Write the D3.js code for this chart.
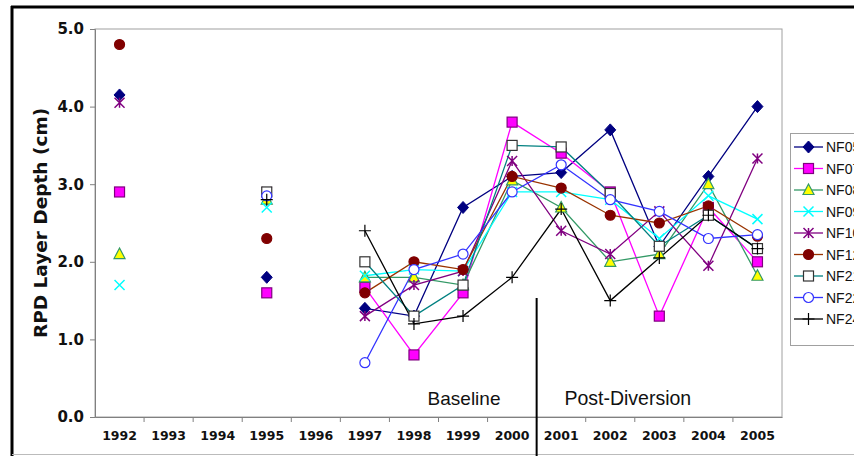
<!DOCTYPE html>
<html><head><meta charset="utf-8">
<script src="https://cdn.jsdelivr.net/npm/d3@7/dist/d3.min.js"></script>
<style>html,body{margin:0;padding:0;background:#fff;overflow:hidden}</style>
</head><body><svg id="c" width="854" height="456"></svg>
<script>
const years = ["1992","1993","1994","1995","1996","1997","1998","1999","2000","2001","2002","2003","2004","2005"];
const yTicks = [0,1,2,3,4,5];
const seriesNames = ["NF05","NF07","NF08","NF09","NF10","NF12","NF21","NF22","NF24"];
const NF05 = [4.15,null,null,1.8,null,1.4,1.3,2.7,3.1,3.15,3.7,2.2,3.1,4.0];
const NF07 = [2.9,null,null,1.6,null,1.67,0.8,1.6,3.8,3.4,2.9,1.3,2.7,2.0];
const NF08 = [2.1,null,null,2.8,null,1.8,1.8,1.7,3.05,2.7,2.0,2.1,3.0,1.82];
const NF09 = [1.7,null,null,2.7,null,1.82,1.9,1.88,2.9,2.9,2.8,2.3,2.85,2.55];
const NF10 = [4.05,null,null,2.9,null,1.3,1.7,1.88,3.3,2.4,2.1,2.65,1.95,3.33];
const NF12 = [4.8,null,null,2.3,null,1.6,2.0,1.9,3.1,2.95,2.6,2.5,2.72,2.33];
const NF21 = [null,null,null,2.9,null,2.0,1.3,1.7,3.5,3.48,2.88,2.2,2.6,2.17];
const NF22 = [null,null,null,2.85,null,0.7,1.9,2.1,2.9,3.25,2.8,2.65,2.3,2.35];
const NF24 = [null,null,null,2.8,null,2.4,1.2,1.3,1.8,2.68,1.5,2.05,2.6,2.17];
const seriesValues = [NF05,NF07,NF08,NF09,NF10,NF12,NF21,NF22,NF24];
const periodLabels = ["Baseline","Post-Diversion"];

const styles = {
  NF05:{line:"#000080", marker:"diamond", fill:"#000080", stroke:"#000080"},
  NF07:{line:"#FF00FF", marker:"square", fill:"#FF00FF", stroke:"#800080"},
  NF08:{line:"#339966", marker:"triangle", fill:"#FFFF00", stroke:"#339966"},
  NF09:{line:"#00FFFF", marker:"x", fill:"none", stroke:"#00FFFF"},
  NF10:{line:"#800080", marker:"star", fill:"none", stroke:"#800080"},
  NF12:{line:"#993300", marker:"circle", fill:"#800000", stroke:"#800000"},
  NF21:{line:"#008080", marker:"square", fill:"#FFFFFF", stroke:"#333333"},
  NF22:{line:"#3333FF", marker:"circle", fill:"#FFFFFF", stroke:"#3333FF"},
  NF24:{line:"#000000", marker:"plus", fill:"none", stroke:"#000000"}
};

const svg = d3.select("#c");
const L = 95, R = 782, T = 29, B = 417;
const x = d3.scaleBand().domain(years).range([L, R]);
const y = d3.scaleLinear().domain([0,5]).range([B, T]);
const cx = d => x(d) + x.bandwidth()/2;

// outer frame
svg.append("line").attr("x1",12).attr("x2",12).attr("y1",6).attr("y2",456).attr("stroke","#000").attr("stroke-width",3);
svg.append("line").attr("x1",11).attr("x2",854).attr("y1",7).attr("y2",7).attr("stroke","#000").attr("stroke-width",3);
svg.append("line").attr("x1",12).attr("x2",854).attr("y1",454.5).attr("y2",454.5).attr("stroke","#bbb").attr("stroke-width",1);

// plot area border
svg.append("rect").attr("x",L).attr("y",T).attr("width",R-L).attr("height",B-T)
  .attr("fill","#fff").attr("stroke","#a0a0a0").attr("stroke-width",1);

// axes
const yAxis = d3.axisLeft(y).tickValues(yTicks).tickFormat(d3.format(".1f")).tickSize(5).tickPadding(6);
const gy = svg.append("g").attr("transform",`translate(${L},0)`).call(yAxis);
gy.select(".domain").attr("stroke","#808080");
gy.selectAll(".tick line").attr("stroke","#808080");
gy.selectAll("text").attr("font-family","DejaVu Sans, Verdana, sans-serif").attr("font-weight","bold").attr("font-size","15px").attr("fill","#111");

const xAxis = d3.axisBottom(x).tickSize(0).tickPadding(14);
const gx = svg.append("g").attr("transform",`translate(0,${B})`).call(xAxis);
gx.select(".domain").attr("stroke","#808080");
gx.selectAll("text").attr("font-family","DejaVu Sans, Verdana, sans-serif").attr("font-weight","bold").attr("font-size","12.5px").attr("fill","#111");
// category boundary ticks
gx.selectAll(".bnd").data(years.slice(1)).enter().append("line")
  .attr("x1",d=>x(d)).attr("x2",d=>x(d)).attr("y1",0).attr("y2",5).attr("stroke","#808080");

// y title
svg.append("text").attr("transform",`translate(47,${(T+B)/2}) rotate(-90)`)
  .attr("text-anchor","middle").attr("font-family","DejaVu Sans, Verdana, sans-serif")
  .attr("font-weight","bold").attr("font-size","18.5px").attr("fill","#111").text("RPD Layer Depth (cm)");

// period labels and divider
const divX = x("2001");
svg.append("line").attr("x1",divX).attr("x2",divX).attr("y1",298).attr("y2",456).attr("stroke","#000").attr("stroke-width",2);
svg.append("text").attr("x",(cx("1998")+cx("2000"))/2+1).attr("y",405).attr("text-anchor","middle")
  .attr("font-family","Liberation Sans, Arial, sans-serif").attr("font-size","19px").attr("fill","#111").text(periodLabels[0]);
svg.append("text").attr("x",(cx("2002")+cx("2003"))/2-7).attr("y",405).attr("text-anchor","middle")
  .attr("font-family","Liberation Sans, Arial, sans-serif").attr("font-size","19.5px").attr("fill","#111").text(periodLabels[1]);

function marker(g, type, st, px, py){
  const s = 5;
  if (type==="diamond"){
    g.append("path").attr("d",`M${px},${py-s-1}L${px+s+0.5},${py}L${px},${py+s+1}L${px-s-0.5},${py}Z`).attr("fill",st.fill).attr("stroke",st.stroke);
  } else if (type==="square"){
    g.append("rect").attr("x",px-s).attr("y",py-s).attr("width",2*s).attr("height",2*s).attr("fill",st.fill).attr("stroke",st.stroke).attr("stroke-width",1.2);
  } else if (type==="triangle"){
    g.append("path").attr("d",`M${px},${py-s-1}L${px+s+0.5},${py+s-0.5}L${px-s-0.5},${py+s-0.5}Z`).attr("fill",st.fill).attr("stroke",st.stroke).attr("stroke-width",1.2);
  } else if (type==="circle"){
    g.append("circle").attr("cx",px).attr("cy",py).attr("r",s).attr("fill",st.fill).attr("stroke",st.stroke).attr("stroke-width",1.2);
  } else if (type==="x"){
    g.append("path").attr("d",`M${px-s},${py-s}L${px+s},${py+s}M${px-s},${py+s}L${px+s},${py-s}`).attr("stroke",st.stroke).attr("stroke-width",1.5);
  } else if (type==="star"){
    g.append("path").attr("d",`M${px-s},${py-s}L${px+s},${py+s}M${px-s},${py+s}L${px+s},${py-s}M${px},${py-s}L${px},${py+s}`).attr("stroke",st.stroke).attr("stroke-width",1.5);
  } else if (type==="plus"){
    g.append("path").attr("d",`M${px-s-1},${py}L${px+s+1},${py}M${px},${py-s-1}L${px},${py+s+1}`).attr("stroke",st.stroke).attr("stroke-width",1.2);
  }
}

const line = d3.line().defined(d=>d.v!=null).x(d=>cx(d.year)).y(d=>y(d.v));
seriesNames.forEach((name,i)=>{
  const pts = years.map((yr,j)=>({year:yr, v:seriesValues[i][j]}));
  svg.append("path").datum(pts).attr("d",line).attr("fill","none").attr("stroke",styles[name].line).attr("stroke-width",1.3);
});
seriesNames.forEach((name,i)=>{
  const g = svg.append("g");
  years.forEach((yr,j)=>{
    const v = seriesValues[i][j];
    if (v!=null) marker(g, styles[name].marker, styles[name], cx(yr), y(v));
  });
});

// legend (cut at the right edge, as in the reference)
const lg = svg.append("g");
lg.append("rect").attr("x",790.5).attr("y",133.5).attr("width",80).attr("height",212).attr("fill","#fff").attr("stroke","#a0a0a0");
seriesNames.forEach((name,i)=>{
  const ly = 147 + i*21.5;
  const st = styles[name];
  lg.append("line").attr("x1",794).attr("x2",823).attr("y1",ly).attr("y2",ly).attr("stroke",st.line).attr("stroke-width",1.3);
  marker(lg, st.marker, st, 808.5, ly);
  lg.append("text").attr("x",826).attr("y",ly+5).attr("font-family","Liberation Sans, Arial, sans-serif").attr("font-size","14px").attr("fill","#111").text(name);
});
</script></body></html>
